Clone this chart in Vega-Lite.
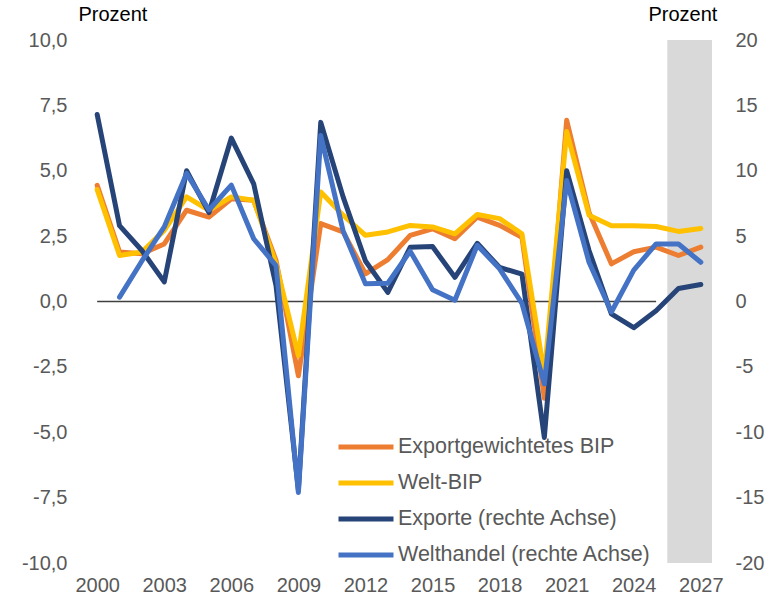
{
  "$schema": "https://vega.github.io/schema/vega-lite/v6.json",
  "width": 626,
  "height": 523,
  "autosize": {"type": "none"},
  "padding": {"left": 86, "top": 40, "right": 63, "bottom": 37},
  "background": "white",
  "config": {
    "view": {"stroke": null},
    "font": "Liberation Sans",
    "axis": {"grid": false, "domain": false, "ticks": false, "labelColor": "#595959", "labelFontSize": 20, "labelFont": "Liberation Sans", "labelFlush": false, "titleFont": "Liberation Sans", "titleFontSize": 20, "titleFontWeight": "normal", "titleColor": "#000000"},
    "legend": {"labelFont": "Liberation Sans"}
  },
  "datasets": {
    "band": [{"start": 2025.5, "end": 2027.5}],
    "zero": [{"from": 2000, "to": 2025, "level": 0}],
    "left": [
      {"year": 2000, "series": "Exportgewichtetes BIP", "value": 4.44},
      {"year": 2001, "series": "Exportgewichtetes BIP", "value": 1.89},
      {"year": 2002, "series": "Exportgewichtetes BIP", "value": 1.83},
      {"year": 2003, "series": "Exportgewichtetes BIP", "value": 2.2},
      {"year": 2004, "series": "Exportgewichtetes BIP", "value": 3.49},
      {"year": 2005, "series": "Exportgewichtetes BIP", "value": 3.23},
      {"year": 2006, "series": "Exportgewichtetes BIP", "value": 3.93},
      {"year": 2007, "series": "Exportgewichtetes BIP", "value": 3.87},
      {"year": 2008, "series": "Exportgewichtetes BIP", "value": 1.57},
      {"year": 2009, "series": "Exportgewichtetes BIP", "value": -2.84},
      {"year": 2010, "series": "Exportgewichtetes BIP", "value": 2.98},
      {"year": 2011, "series": "Exportgewichtetes BIP", "value": 2.66},
      {"year": 2012, "series": "Exportgewichtetes BIP", "value": 1.06},
      {"year": 2013, "series": "Exportgewichtetes BIP", "value": 1.6},
      {"year": 2014, "series": "Exportgewichtetes BIP", "value": 2.53},
      {"year": 2015, "series": "Exportgewichtetes BIP", "value": 2.78},
      {"year": 2016, "series": "Exportgewichtetes BIP", "value": 2.4},
      {"year": 2017, "series": "Exportgewichtetes BIP", "value": 3.23},
      {"year": 2018, "series": "Exportgewichtetes BIP", "value": 2.91},
      {"year": 2019, "series": "Exportgewichtetes BIP", "value": 2.46},
      {"year": 2020, "series": "Exportgewichtetes BIP", "value": -3.7},
      {"year": 2021, "series": "Exportgewichtetes BIP", "value": 6.93},
      {"year": 2022, "series": "Exportgewichtetes BIP", "value": 3.4},
      {"year": 2023, "series": "Exportgewichtetes BIP", "value": 1.44},
      {"year": 2024, "series": "Exportgewichtetes BIP", "value": 1.9},
      {"year": 2025, "series": "Exportgewichtetes BIP", "value": 2.08},
      {"year": 2026, "series": "Exportgewichtetes BIP", "value": 1.76},
      {"year": 2027, "series": "Exportgewichtetes BIP", "value": 2.08},
      {"year": 2000, "series": "Welt-BIP", "value": 4.28},
      {"year": 2001, "series": "Welt-BIP", "value": 1.76},
      {"year": 2002, "series": "Welt-BIP", "value": 1.89},
      {"year": 2003, "series": "Welt-BIP", "value": 2.72},
      {"year": 2004, "series": "Welt-BIP", "value": 4.0},
      {"year": 2005, "series": "Welt-BIP", "value": 3.49},
      {"year": 2006, "series": "Welt-BIP", "value": 4.0},
      {"year": 2007, "series": "Welt-BIP", "value": 3.87},
      {"year": 2008, "series": "Welt-BIP", "value": 1.44},
      {"year": 2009, "series": "Welt-BIP", "value": -2.07},
      {"year": 2010, "series": "Welt-BIP", "value": 4.19},
      {"year": 2011, "series": "Welt-BIP", "value": 3.3},
      {"year": 2012, "series": "Welt-BIP", "value": 2.53},
      {"year": 2013, "series": "Welt-BIP", "value": 2.66},
      {"year": 2014, "series": "Welt-BIP", "value": 2.91},
      {"year": 2015, "series": "Welt-BIP", "value": 2.85},
      {"year": 2016, "series": "Welt-BIP", "value": 2.59},
      {"year": 2017, "series": "Welt-BIP", "value": 3.33},
      {"year": 2018, "series": "Welt-BIP", "value": 3.17},
      {"year": 2019, "series": "Welt-BIP", "value": 2.59},
      {"year": 2020, "series": "Welt-BIP", "value": -2.8},
      {"year": 2021, "series": "Welt-BIP", "value": 6.5},
      {"year": 2022, "series": "Welt-BIP", "value": 3.3},
      {"year": 2023, "series": "Welt-BIP", "value": 2.9},
      {"year": 2024, "series": "Welt-BIP", "value": 2.9},
      {"year": 2025, "series": "Welt-BIP", "value": 2.87},
      {"year": 2026, "series": "Welt-BIP", "value": 2.68},
      {"year": 2027, "series": "Welt-BIP", "value": 2.79}
    ],
    "right": [
      {"year": 2000, "series": "Exporte (rechte Achse)", "value": 14.3},
      {"year": 2001, "series": "Exporte (rechte Achse)", "value": 5.8},
      {"year": 2002, "series": "Exporte (rechte Achse)", "value": 3.9},
      {"year": 2003, "series": "Exporte (rechte Achse)", "value": 1.5},
      {"year": 2004, "series": "Exporte (rechte Achse)", "value": 10.0},
      {"year": 2005, "series": "Exporte (rechte Achse)", "value": 6.8},
      {"year": 2006, "series": "Exporte (rechte Achse)", "value": 12.5},
      {"year": 2007, "series": "Exporte (rechte Achse)", "value": 9.0},
      {"year": 2008, "series": "Exporte (rechte Achse)", "value": 1.2},
      {"year": 2009, "series": "Exporte (rechte Achse)", "value": -14.4},
      {"year": 2010, "series": "Exporte (rechte Achse)", "value": 13.7},
      {"year": 2011, "series": "Exporte (rechte Achse)", "value": 8.0},
      {"year": 2012, "series": "Exporte (rechte Achse)", "value": 3.1},
      {"year": 2013, "series": "Exporte (rechte Achse)", "value": 0.7},
      {"year": 2014, "series": "Exporte (rechte Achse)", "value": 4.15},
      {"year": 2015, "series": "Exporte (rechte Achse)", "value": 4.2},
      {"year": 2016, "series": "Exporte (rechte Achse)", "value": 1.85},
      {"year": 2017, "series": "Exporte (rechte Achse)", "value": 4.45},
      {"year": 2018, "series": "Exporte (rechte Achse)", "value": 2.6},
      {"year": 2019, "series": "Exporte (rechte Achse)", "value": 2.1},
      {"year": 2020, "series": "Exporte (rechte Achse)", "value": -10.4},
      {"year": 2021, "series": "Exporte (rechte Achse)", "value": 10.0},
      {"year": 2022, "series": "Exporte (rechte Achse)", "value": 3.9},
      {"year": 2023, "series": "Exporte (rechte Achse)", "value": -0.95},
      {"year": 2024, "series": "Exporte (rechte Achse)", "value": -2.0},
      {"year": 2025, "series": "Exporte (rechte Achse)", "value": -0.7},
      {"year": 2026, "series": "Exporte (rechte Achse)", "value": 1.0},
      {"year": 2027, "series": "Exporte (rechte Achse)", "value": 1.3},
      {"year": 2001, "series": "Welthandel (rechte Achse)", "value": 0.33},
      {"year": 2002, "series": "Welthandel (rechte Achse)", "value": 3.1},
      {"year": 2003, "series": "Welthandel (rechte Achse)", "value": 5.7},
      {"year": 2004, "series": "Welthandel (rechte Achse)", "value": 9.8},
      {"year": 2005, "series": "Welthandel (rechte Achse)", "value": 7.0},
      {"year": 2006, "series": "Welthandel (rechte Achse)", "value": 8.9},
      {"year": 2007, "series": "Welthandel (rechte Achse)", "value": 4.8},
      {"year": 2008, "series": "Welthandel (rechte Achse)", "value": 2.75},
      {"year": 2009, "series": "Welthandel (rechte Achse)", "value": -14.6},
      {"year": 2010, "series": "Welthandel (rechte Achse)", "value": 12.7},
      {"year": 2011, "series": "Welthandel (rechte Achse)", "value": 5.4},
      {"year": 2012, "series": "Welthandel (rechte Achse)", "value": 1.35},
      {"year": 2013, "series": "Welthandel (rechte Achse)", "value": 1.4},
      {"year": 2014, "series": "Welthandel (rechte Achse)", "value": 3.85},
      {"year": 2015, "series": "Welthandel (rechte Achse)", "value": 0.9},
      {"year": 2016, "series": "Welthandel (rechte Achse)", "value": 0.1},
      {"year": 2017, "series": "Welthandel (rechte Achse)", "value": 4.3},
      {"year": 2018, "series": "Welthandel (rechte Achse)", "value": 2.5},
      {"year": 2019, "series": "Welthandel (rechte Achse)", "value": -0.15},
      {"year": 2020, "series": "Welthandel (rechte Achse)", "value": -6.3},
      {"year": 2021, "series": "Welthandel (rechte Achse)", "value": 9.25},
      {"year": 2022, "series": "Welthandel (rechte Achse)", "value": 3.0},
      {"year": 2023, "series": "Welthandel (rechte Achse)", "value": -0.8},
      {"year": 2024, "series": "Welthandel (rechte Achse)", "value": 2.4},
      {"year": 2025, "series": "Welthandel (rechte Achse)", "value": 4.4},
      {"year": 2026, "series": "Welthandel (rechte Achse)", "value": 4.4},
      {"year": 2027, "series": "Welthandel (rechte Achse)", "value": 3.0}
    ]
  },
  "layer": [
    {
      "data": {"name": "band"},
      "mark": {"type": "rect", "color": "#d9d9d9"},
      "encoding": {
        "x": {"field": "start", "type": "quantitative", "scale": {"domain": [1999.5, 2027.5], "nice": false, "zero": false},
          "axis": {"values": [2000, 2003, 2006, 2009, 2012, 2015, 2018, 2021, 2024, 2027], "format": "d", "labelPadding": 12, "title": null, "labelOverlap": false}},
        "x2": {"field": "end"}
      }
    },
    {
      "layer": [
        {
          "data": {"name": "zero"},
          "mark": {"type": "rule", "color": "#404040", "strokeWidth": 1.3},
          "encoding": {
            "x": {"field": "from", "type": "quantitative"},
            "x2": {"field": "to"},
            "y": {"field": "level", "type": "quantitative", "scale": {"domain": [-10, 10], "nice": false},
              "axis": {"orient": "left", "values": [-10, -7.5, -5, -2.5, 0, 2.5, 5, 7.5, 10], "labelExpr": "replace(replace(format(datum.value, '.1f'), '.', ','), '\u2212', '-')", "labelPadding": 19, "title": "Prozent", "titleAngle": 0, "titleAlign": "left", "titleBaseline": "middle", "titleX": -8, "titleY": -26}}
          }
        },
        {
          "data": {"name": "left"},
          "mark": {"type": "line", "strokeWidth": 5, "strokeJoin": "round", "strokeCap": "round"},
          "encoding": {
            "x": {"field": "year", "type": "quantitative"},
            "y": {"field": "value", "type": "quantitative"},
            "color": {"field": "series", "type": "nominal",
              "scale": {"domain": ["Exportgewichtetes BIP", "Welt-BIP", "Exporte (rechte Achse)", "Welthandel (rechte Achse)"], "range": ["#ED7D31", "#FFC000", "#264478", "#4472C4"]},
              "legend": {"title": null, "orient": "none", "legendX": 268, "legendY": 395, "symbolType": "M-3,0H3", "symbolSize": 336, "symbolStrokeWidth": 5, "labelFontSize": 21.5, "labelColor": "#595959", "labelOffset": 20, "rowPadding": 13, "padding": 0, "labelLimit": 400}}
          }
        }
      ]
    },
    {
      "data": {"name": "right"},
      "mark": {"type": "line", "strokeWidth": 5, "strokeJoin": "round", "strokeCap": "round"},
      "encoding": {
        "x": {"field": "year", "type": "quantitative"},
        "y": {"field": "value", "type": "quantitative", "scale": {"domain": [-20, 20], "nice": false},
          "axis": {"orient": "right", "values": [-20, -15, -10, -5, 0, 5, 10, 15, 20], "labelExpr": "replace(format(datum.value, 'd'), '\u2212', '-')", "labelPadding": 23, "title": "Prozent", "titleAngle": 0, "titleAlign": "left", "titleBaseline": "middle", "titleX": -64, "titleY": -26}},
        "color": {"field": "series", "type": "nominal"}
      }
    }
  ],
  "resolve": {"scale": {"y": "independent"}}
}
